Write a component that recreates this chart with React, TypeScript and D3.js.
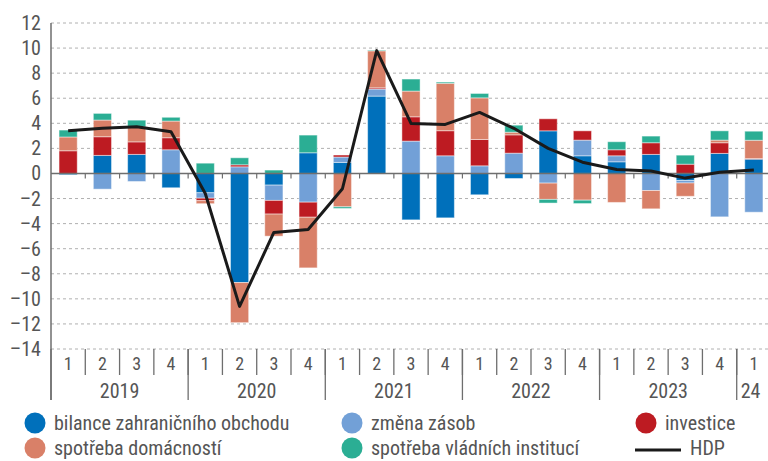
import React from "react";
import * as d3 from "d3";

const quarterLabels = ["1","2","3","4","1","2","3","4","1","2","3","4","1","2","3","4","1","2","3","4","1"];
const yearLabels = ["2019", "2020", "2021", "2022", "2023", "24"];
const yearSpans = [4, 4, 4, 4, 4, 1];
const yTicks = [12, 10, 8, 6, 4, 2, 0, -2, -4, -6, -8, -10, -12, -14];

const bilance = [-0.1, 1.44, 1.52, -1.14, -1.54, -8.7, -0.93, 1.65, 0.88, 6.17, -3.7, -3.54, -1.7, -0.4, 3.4, 1.41, 0.93, 1.52, -0.56, 1.6, 1.14];
const zasoby = [0, -1.25, -0.64, 1.89, -0.43, 0.53, -1.22, -2.29, 0.43, 0.56, 2.58, 1.41, 0.61, 1.62, -0.77, 1.25, 0.48, -1.36, -0.2, -3.46, -3.09];
const investice = [1.81, 1.49, 1.0, 0.96, -0.2, 0.16, -1.09, -1.2, 0.16, 0.1, 1.94, 2.0, 2.1, 1.46, 0.96, 0.74, 0.48, 0.93, 0.74, 0.85, 0.05];
const domacnosti = [1.1, 1.33, 1.2, 1.33, -0.24, -3.2, -1.76, -4.04, -2.66, 2.95, 2.05, 3.78, 3.32, 0.21, -1.3, -2.13, -2.31, -1.46, -1.06, 0.21, 1.46];
const vladni = [0.55, 0.53, 0.53, 0.3, 0.82, 0.56, 0.27, 1.41, -0.13, 0.05, 0.96, 0.1, 0.35, 0.56, -0.29, -0.27, 0.64, 0.53, 0.72, 0.74, 0.72];
const hdp = [3.4, 3.6, 3.72, 3.32, -1.6, -10.6, -4.7, -4.47, -1.22, 9.8, 3.99, 3.91, 4.87, 3.6, 2.0, 0.9, 0.32, 0.19, -0.37, 0.1, 0.27];

const seriesKeys = ["bilance", "zasoby", "investice", "domacnosti", "vladni"];
const seriesNames = ["bilance zahraničního obchodu", "změna zásob", "investice", "spotřeba domácností", "spotřeba vládních institucí"];
const seriesColors = ["#0070bb", "#72a0d7", "#bd1b22", "#d98068", "#2bae94"];

const FONT = "'Liberation Sans Narrow', 'Arial Narrow', 'Roboto Condensed', Roboto, sans-serif";
const TXT = "#555";

export default function App() {
  const W = 768, H = 461;
  const x0 = 51, x1 = 771;
  const idx = quarterLabels.map((_, i) => i);
  const x = d3.scaleBand<number>().domain(idx).range([x0, x1]).paddingInner(0.47).paddingOuter(0.235);
  const step = x.step();
  const y = d3.scaleLinear().domain([-14, 12]).range([349, 23]);

  const rows = idx.map((i) => ({
    bilance: bilance[i], zasoby: zasoby[i], investice: investice[i], domacnosti: domacnosti[i], vladni: vladni[i],
  }));
  const stacked = d3.stack<any>().keys(seriesKeys).offset(d3.stackOffsetDiverging)(rows);

  const line = d3.line<number>().x((_, i) => (x(i) as number) + x.bandwidth() / 2).y((d) => y(d));

  const bounds = d3.range(1, quarterLabels.length + 1).map((i) => x0 + i * step);
  let acc = 0;
  const yearBounds: number[] = [x0];
  const yearCenters: number[] = [];
  yearSpans.forEach((s) => {
    yearCenters.push(x0 + (acc + s / 2) * step);
    acc += s;
    yearBounds.push(x0 + acc * step);
  });

  const legendItems = [
    { i: 0, cx: 35, cy: 423 },
    { i: 1, cx: 352, cy: 423 },
    { i: 2, cx: 646, cy: 423 },
    { i: 3, cx: 35, cy: 448 },
    { i: 4, cx: 352, cy: 448 },
  ];

  return (
    <svg width={W} height={H} style={{ display: "block" }} fontFamily={FONT}>
      <style>{`body{margin:0}`}</style>
      <rect width={W} height={H} fill="#fff" />
      {yTicks.map((t) => (
        <g key={t}>
          {t !== 0 && (
            <line x1={x0} x2={W} y1={y(t)} y2={y(t)} stroke="#b0b0b0" strokeWidth={1} strokeDasharray="3,3" />
          )}
          <text x={41} y={y(t)} dy="0.35em" textAnchor="end" fontSize={20} fill={TXT}>
            {t < 0 ? "–" + Math.abs(t) : String(t)}
          </text>
        </g>
      ))}
      {stacked.map((s, k) => (
        <g key={k} fill={seriesColors[k]}>
          {s.map((d, i) => {
            const top = y(Math.max(d[0], d[1]));
            const bot = y(Math.min(d[0], d[1]));
            const h = bot - top;
            if (h <= 0.01) return null;
            return (
              <rect key={i} x={x(i)} y={top} width={x.bandwidth()} height={h}
                stroke="#ffffff" strokeOpacity={0.45} strokeWidth={1} />
            );
          })}
        </g>
      ))}
      <line x1={x0} x2={W} y1={y(0)} y2={y(0)} stroke="#6e6e6e" strokeWidth={1.5} />
      {bounds.map((b, i) => (
        <line key={"zt" + i} x1={b} x2={b} y1={y(0)} y2={y(0) + 5} stroke="#6e6e6e" strokeWidth={1.2} />
      ))}
      <path d={line(hdp) || ""} fill="none" stroke="#1a1a1a" strokeWidth={3} strokeLinejoin="round" />
      <line x1={x0} x2={x0} y1={23} y2={400} stroke="#6e6e6e" strokeWidth={1.5} />
      {bounds.map((b, i) => (
        <line key={"qs" + i} x1={b} x2={b} y1={349} y2={375} stroke="#6e6e6e" strokeWidth={1.3} />
      ))}
      {yearBounds.map((b, i) => (
        <line key={"ys" + i} x1={b} x2={b} y1={349} y2={400} stroke="#6e6e6e" strokeWidth={1.3} />
      ))}
      {quarterLabels.map((q, i) => (
        <text key={"ql" + i} x={(x(i) as number) + x.bandwidth() / 2} y={364} dy="0.35em" textAnchor="middle" fontSize={18} fill={TXT}>
          {q}
        </text>
      ))}
      {yearLabels.map((yl, i) => (
        <text key={"yl" + i} x={i === yearLabels.length - 1 ? yearBounds[i] + 4 : yearCenters[i]} y={391} dy="0.35em"
          textAnchor={i === yearLabels.length - 1 ? "start" : "middle"} fontSize={20} fill={TXT}>
          {yl}
        </text>
      ))}
      {legendItems.map((l) => (
        <g key={"lg" + l.i}>
          <circle cx={l.cx} cy={l.cy} r={10.5} fill={seriesColors[l.i]} />
          <text x={l.cx + 19} y={l.cy} dy="0.35em" fontSize={20} fill={TXT}>{seriesNames[l.i]}</text>
        </g>
      ))}
      <line x1={635} x2={681} y1={450} y2={450} stroke="#1a1a1a" strokeWidth={3} />
      <text x={690} y={448} dy="0.35em" fontSize={20} fill={TXT}>HDP</text>
    </svg>
  );
}
